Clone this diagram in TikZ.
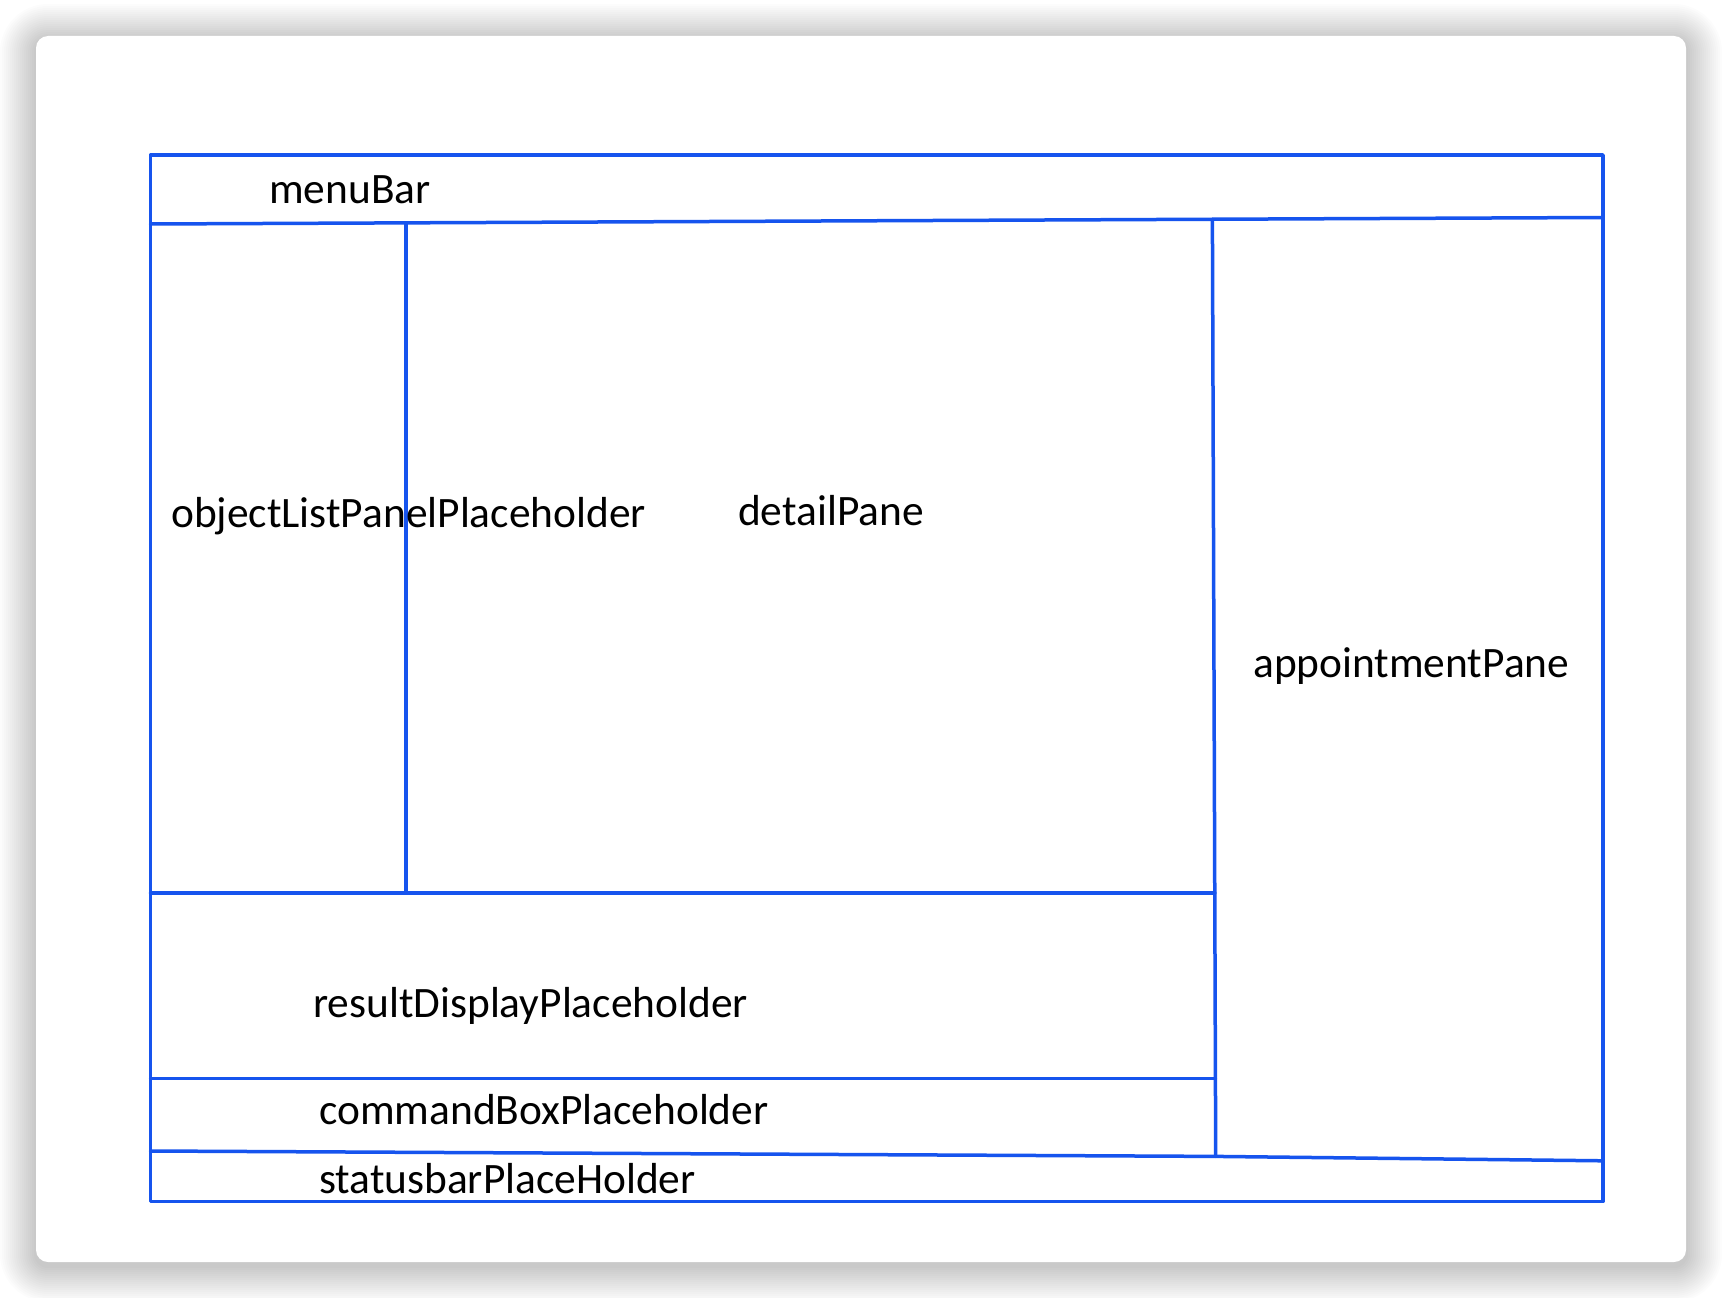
\documentclass[tikz,border=0pt]{standalone}
\usepackage{fontspec}
\setmainfont{Carlito}
\usetikzlibrary{calc}
\definecolor{paneblue}{RGB}{22,84,238}
\begin{document}
\begin{tikzpicture}[x=1pt,y=-1pt,
  paneline/.style={draw=paneblue,line width=3.5pt,line cap=round,line join=round},
  panelabel/.style={anchor=base west,inner sep=0pt,font=\fontsize{43.4}{52}\selectfont,text=black}]
\useasboundingbox (0,0) rectangle (1722,1298);
\fill[white] (0,0) rectangle (1722,1298);
% soft shadow of the card
\foreach \i in {1,...,18}{
  \fill[black,opacity=0.011,rounded corners={12+2*\i}]
    ($(36,40)+(-2*\i,-2*\i)$) rectangle ($(1686,1266)+(2*\i,2*\i)$);
}
\fill[white,rounded corners=12] (36,36) rectangle (1686,1262);
% frame coordinates
\coordinate (TL) at (150.5,155);
\coordinate (TR) at (1603,155);
\coordinate (BR) at (1603,1201.5);
\coordinate (BL) at (150.5,1201.5);
\coordinate (mL) at (150.5,224);
\coordinate (mR) at (1603,217.5);
\coordinate (d1T) at (406,222.9);
\coordinate (d1B) at (406,892.8);
\coordinate (d2T) at (1212.4,219.3);
\coordinate (d2B) at (1215.7,1156.4);
\coordinate (h1L) at (150.5,892.8);
\coordinate (h1R) at (1214.8,892.8);
\coordinate (h2L) at (150.5,1078.4);
\coordinate (h2R) at (1215.4,1078.4);
\coordinate (sL) at (150.5,1151);
\coordinate (sR) at (1603,1160.8);
% lines
\draw[paneline] (TL) -- (TR) -- (BR) -- (BL) -- cycle;
\draw[paneline] (mL) -- (mR);
\draw[paneline] (d1T) -- (d1B);
\draw[paneline] (d2T) -- (d2B);
\draw[paneline] (h1L) -- (h1R);
\draw[paneline] (h2L) -- (h2R);
\draw[paneline] (sL) -- (d2B) -- (sR);
% labels
\node[panelabel] (menuBar) at (269,203) {menuBar};
\node[panelabel] (objList) at (171,527) {objectListPanelPlaceholder};
\node[panelabel] (detail) at (738,525) {detailPane};
\node[panelabel] (appt) at (1253,677) {appointmentPane};
\node[panelabel] (result) at (313,1017) {resultDisplayPlaceholder};
\node[panelabel] (command) at (319,1124) {commandBoxPlaceholder};
\node[panelabel] (status) at (319,1193) {statusbarPlaceHolder};
\end{tikzpicture}
\end{document}
